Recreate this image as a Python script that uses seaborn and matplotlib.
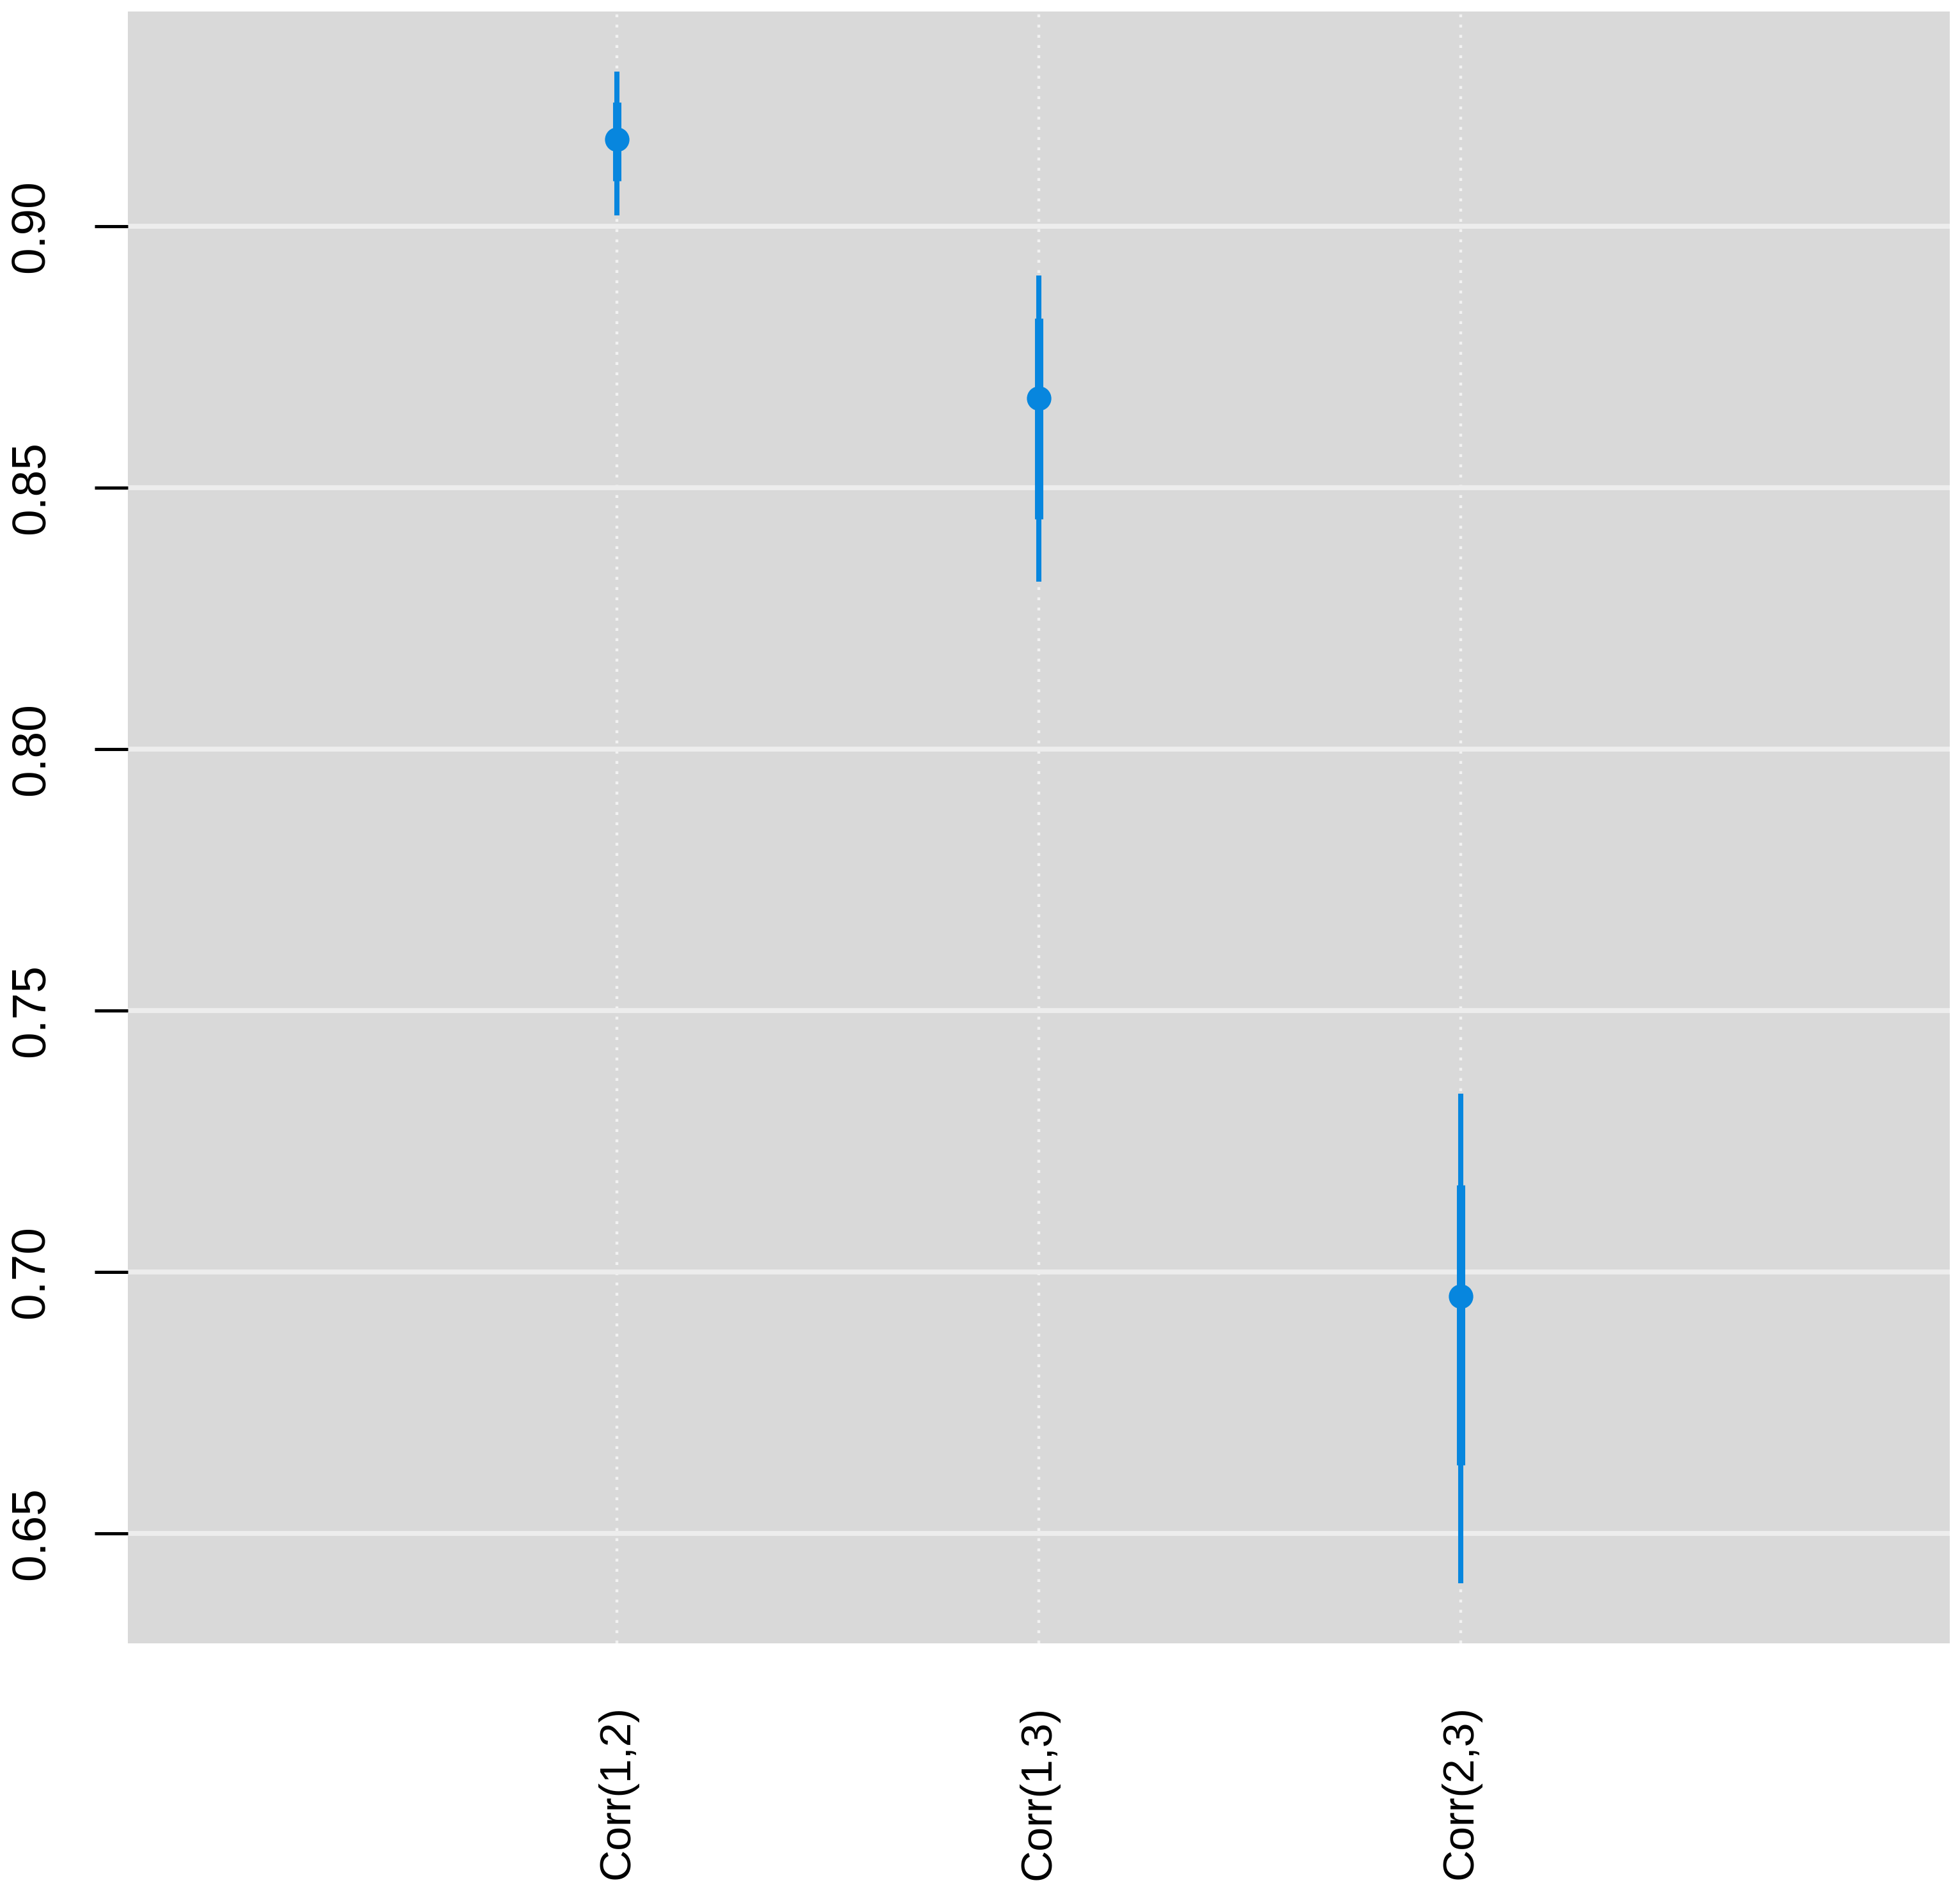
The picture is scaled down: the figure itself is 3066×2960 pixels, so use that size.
import pandas as pd
import seaborn as sns
import matplotlib.pyplot as plt

# correlation summaries
labels = ["Corr(1,2)", "Corr(1,3)", "Corr(2,3)"]
median = [0.9166, 0.8672, 0.6954]
inner_lo = [0.9087, 0.8441, 0.6631]
inner_hi = [0.9237, 0.8824, 0.7167]
outer_lo = [0.9021, 0.8321, 0.6405]
outer_hi = [0.9296, 0.8906, 0.7341]
yticks = [0.65, 0.70, 0.75, 0.80, 0.85, 0.90]

df = pd.DataFrame({"param": labels, "median": median,
                   "inner_lo": inner_lo, "inner_hi": inner_hi,
                   "outer_lo": outer_lo, "outer_hi": outer_hi})

sns.set_theme(style="white")
plt.rcParams["font.family"] = ["Liberation Sans", "DejaVu Sans"]

blue = "#0786DE"
fig = plt.figure(figsize=(15.33, 14.8), dpi=200)
ax = fig.add_axes([0.0652, 0.1314, 0.9296, 0.8625])
ax.set_facecolor("#D9D9D9")

pos = list(range(len(df)))  # categorical positions used by seaborn
ax.vlines(pos, df["outer_lo"], df["outer_hi"], color=blue, lw=2.9, zorder=3)
ax.vlines(pos, df["inner_lo"], df["inner_hi"], color=blue, lw=4.7, zorder=4)
sns.scatterplot(data=df, x="param", y="median", ax=ax, color=blue,
                s=190, edgecolor=blue, linewidth=0, zorder=5)

ax.set_xlim(-1.16, 3.16)
ax.set_ylim(0.629, 0.9411)
ax.set_yticks(yticks)
ax.set_yticklabels([f"{t:.2f}" for t in yticks])

# grid: solid horizontal, dotted vertical
ax.grid(False)
ax.yaxis.grid(True, color="#EDEDED", lw=2.8, ls="-")
ax.xaxis.grid(True, color="#F2F2F2", lw=1.6, ls=(0, (1, 2.6)))
ax.set_axisbelow(True)

for s in ax.spines.values():
    s.set_visible(False)

ax.tick_params(axis="y", left=True, length=18.7, width=1.8, color="black",
               pad=23, labelsize=27, labelcolor="black")
ax.tick_params(axis="x", bottom=False, length=0, pad=35, labelsize=24.5,
               labelcolor="black")
plt.setp(ax.get_yticklabels(), rotation=90, va="center")
plt.setp(ax.get_xticklabels(), rotation=90, ha="center", va="top")

ax.set_xlabel("")
ax.set_ylabel("")

fig.savefig("out.png", dpi=200, facecolor="white")
